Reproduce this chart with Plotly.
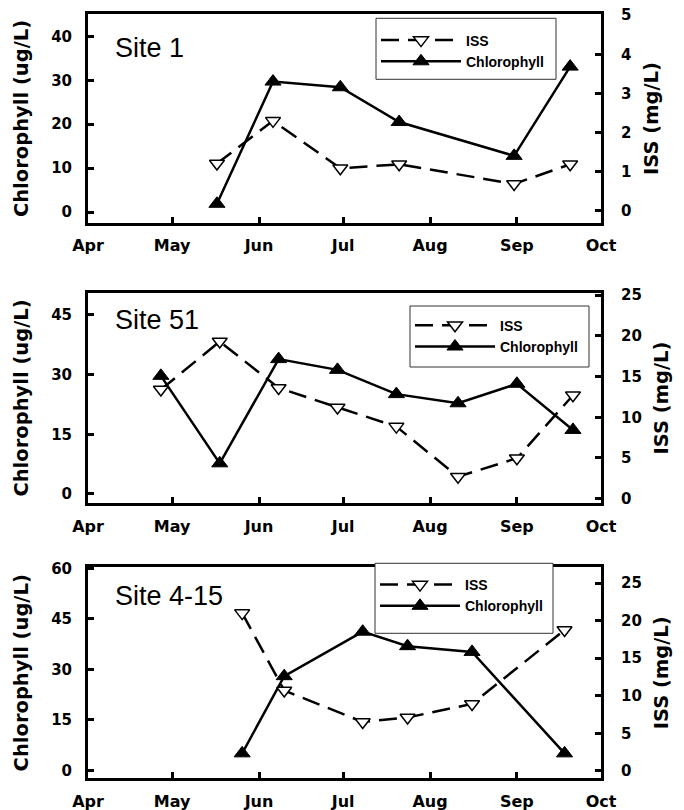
import plotly.graph_objects as go

# ---- data -------------------------------------------------------------
YEAR = "2006"

site1_dates = ["05-17", "06-06", "06-30", "07-21", "08-31", "09-20"]
site1_chl = [1.9, 29.7, 28.4, 20.5, 12.8, 33.1]
site1_iss = [1.21, 2.30, 1.09, 1.19, 0.69, 1.19]

site51_dates = ["04-27", "05-18", "06-08", "06-29", "07-20", "08-11", "09-01", "09-21"]
site51_chl = [29.7, 7.7, 33.9, 31.2, 25.1, 22.8, 27.7, 16.1]
site51_iss = [13.4, 19.3, 13.6, 11.2, 8.85, 2.7, 4.96, 12.7]

site415_dates = ["05-26", "06-10", "07-08", "07-24", "08-16", "09-18"]
site415_chl = [5.1, 28.0, 41.2, 36.9, 35.2, 5.1]
site415_iss = [21.0, 10.7, 6.5, 7.1, 8.9, 18.75]

site_names = ["Site 1", "Site 51", "Site 4-15"]
chl_ticks = [[0, 10, 20, 30, 40], [0, 15, 30, 45], [0, 15, 30, 45, 60]]
iss_ticks = [[0, 1, 2, 3, 4, 5], [0, 5, 10, 15, 20, 25], [0, 5, 10, 15, 20, 25]]
chl_ranges = [[-2.4, 45.0], [-2.35, 50.6], [-2.3, 60.3]]
iss_ranges = [[-0.3, 5.02], [-0.57, 25.3], [-1.0, 27.1]]

# ---- layout geometry (pixels) -----------------------------------------
W, H = 684, 810
X0, X1 = 88, 601
panel_px = [(14.3, 222.7), (292.7, 503.3), (567.3, 778.3)]
# legend frame (left, top, right, bottom) and top of the legend entries
legend_box = [(376, 18.3, 556, 79.3), (410, 306, 589, 367), (375, 563.3, 553, 633.3)]
legend_top = [24.5, 309.7, 569]
site_px = [(113, 48), (113, 320), (113, 596)]

BOLD = "DejaVu Sans"
ARIAL = "Liberation Sans, Arial, sans-serif"

fig = go.Figure()

panels = [
    (site1_dates, site1_chl, site1_iss),
    (site51_dates, site51_chl, site51_iss),
    (site415_dates, site415_chl, site415_iss),
]

for i, (dates, chl, iss) in enumerate(panels):
    n = i + 1
    xa = "x" if n == 1 else f"x{n}"
    ya_left = "y" if n == 1 else f"y{2 * n - 1}"
    ya_right = f"y{2 * n}"
    leg = "legend" if n == 1 else f"legend{n}"
    xs = [f"{YEAR}-{d}" for d in dates]

    fig.add_trace(go.Scatter(
        x=xs, y=iss, xaxis=xa, yaxis=ya_right, name="ISS",
        mode="lines+markers", legend=leg,
        line=dict(color="black", width=2.5, dash="18px,9px"),
        marker=dict(symbol="triangle-down", size=13, color="white",
                    line=dict(color="black", width=1.5)),
    ))
    fig.add_trace(go.Scatter(
        x=xs, y=chl, xaxis=xa, yaxis=ya_left, name="Chlorophyll",
        mode="lines+markers", legend=leg,
        line=dict(color="black", width=2.5),
        marker=dict(symbol="triangle-up", size=14, color="black",
                    line=dict(color="black", width=1)),
    ))

layout = dict(
    width=W, height=H,
    margin=dict(l=0, r=0, t=0, b=0, pad=0, autoexpand=False),
    paper_bgcolor="white", plot_bgcolor="white",
    showlegend=True,
    annotations=[],
    shapes=[],
)

for i in range(3):
    n = i + 1
    top, bot = panel_px[i]
    ydom = [1 - bot / H, 1 - top / H]
    xkey = "xaxis" if n == 1 else f"xaxis{n}"
    lkey = "yaxis" if n == 1 else f"yaxis{2 * n - 1}"
    rkey = f"yaxis{2 * n}"
    xa = "x" if n == 1 else f"x{n}"
    ya_left = "y" if n == 1 else f"y{2 * n - 1}"

    layout[xkey] = dict(
        domain=[X0 / W, X1 / W], anchor=ya_left, type="date",
        range=[f"{YEAR}-04-01", f"{YEAR}-10-01"],
        dtick="M1", tick0=f"{YEAR}-04-01", tickformat="%b",
        ticks="inside", ticklen=6, tickwidth=3, tickcolor="black",
        showline=True, mirror=True, linecolor="black", linewidth=3,
        showgrid=False, zeroline=False, ticklabelstandoff=6,
        tickfont=dict(family=BOLD, size=16, color="black", weight="bold"),
    )
    layout[lkey] = dict(
        domain=ydom, anchor=xa, range=chl_ranges[i],
        tickvals=chl_ticks[i], ticks="inside", ticklen=6, tickwidth=3,
        tickcolor="black", showline=True, linecolor="black", linewidth=3,
        showgrid=False, zeroline=False, ticklabelstandoff=10,
        tickfont=dict(family=BOLD, size=15, color="black", weight="bold"),
        title=dict(text="Chlorophyll (ug/L)", standoff=18,
                   font=dict(family=BOLD, size=19.5, color="black", weight="bold")),
    )
    layout[rkey] = dict(
        anchor=xa, overlaying=ya_left, side="right", range=iss_ranges[i],
        tickvals=iss_ticks[i], ticks="inside", ticklen=6, tickwidth=3,
        tickcolor="black", showline=True, linecolor="black", linewidth=3,
        showgrid=False, zeroline=False, ticklabelstandoff=14,
        tickfont=dict(family=BOLD, size=15, color="black", weight="bold"),
        title=dict(text="ISS (mg/L)", standoff=14,
                   font=dict(family=BOLD, size=19.5, color="black", weight="bold")),
    )

    # legend frame, drawn over the axes so it hides the border it crosses
    bx0, by0, bx1, by1 = legend_box[i]
    layout["shapes"].append(dict(
        type="rect", xref="paper", yref="paper", layer="above",
        x0=bx0 / W, x1=bx1 / W, y0=1 - by1 / H, y1=1 - by0 / H,
        fillcolor="white", line=dict(color="#333", width=1),
    ))

    lkey_leg = "legend" if n == 1 else f"legend{n}"
    layout[lkey_leg] = dict(
        x=bx0 / W, y=1 - legend_top[i] / H, xanchor="left", yanchor="top",
        bgcolor="rgba(0,0,0,0)", borderwidth=0,
        font=dict(family=ARIAL, size=14, color="black", weight="bold"),
        itemwidth=80, traceorder="normal",
    )

    sx, sy = site_px[i]
    layout["annotations"].append(dict(
        text=site_names[i], xref="paper", yref="paper",
        x=sx / W, y=1 - sy / H, xanchor="left", yanchor="middle",
        showarrow=False, font=dict(family=ARIAL, size=27, color="black"),
    ))

fig.update_layout(**layout)
fig.write_html("out.html")
